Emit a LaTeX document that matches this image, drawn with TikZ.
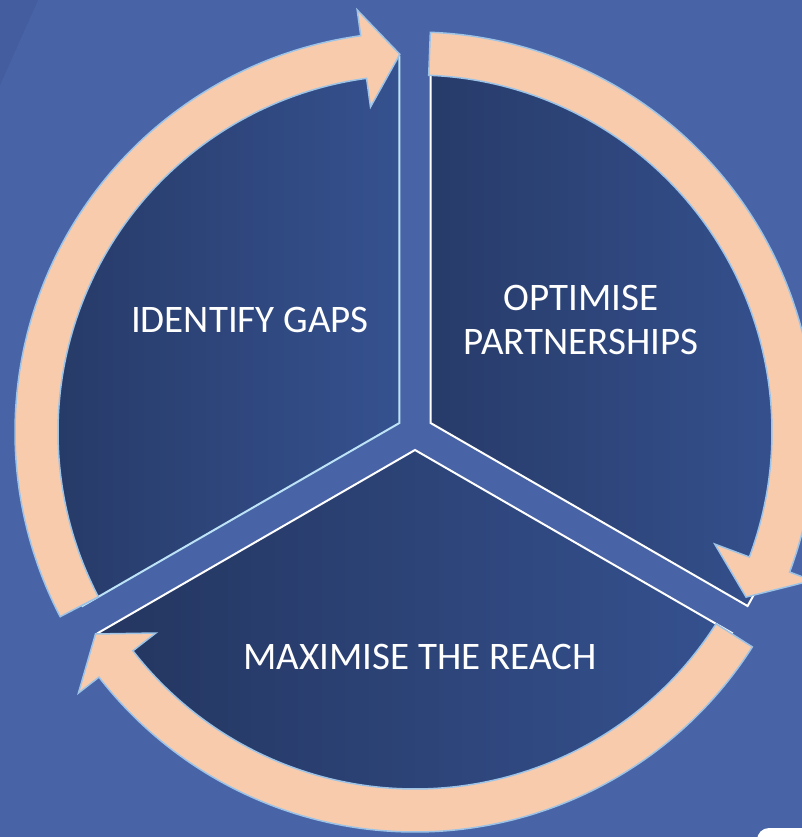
\documentclass[tikz,border=0pt]{standalone}
\usepackage{fontspec}
\setmainfont{Carlito}
\usepackage{xcolor}
\usepackage{tikz}
\usetikzlibrary{arrows.meta, positioning, calc}
\definecolor{bgblue}{RGB}{72, 99, 166}
\definecolor{bgshade}{RGB}{67, 93, 158}
\definecolor{segdark}{RGB}{36, 54, 96}
\definecolor{seglight}{RGB}{53, 81, 143}
\definecolor{arrowfill}{RGB}{248, 203, 173}
\definecolor{arrowline}{RGB}{157, 195, 230}
\definecolor{edgeblue}{RGB}{189, 227, 247}

\begin{document}
\begin{tikzpicture}[x=1pt, y=1pt,
    segment/.style={left color=segdark, right color=seglight, draw=white, line width=2pt, line join=miter},
    cyclearrow/.style={fill=arrowfill, draw=arrowline, line width=1.5pt, line join=miter},
    segtext/.style={text=white, align=center, font=\fontsize{39}{44}\selectfont}]
    \useasboundingbox (-415,-405) rectangle (387,432);
    \clip (-415,-405) rectangle (387,432);
    \fill[bgblue] (-415,-405) rectangle (387,432);
    \fill[bgshade] (-415,432) -- (-377,432) -- (-415,347) -- cycle;
    \fill[white, rounded corners=12pt] (342,-396) rectangle (430,-450);
    \coordinate (hub) at (0,0);

    % three segments, pushed apart from the hub
    \draw[segment, draw=edgeblue] (150:18pt) -- ++(210:366pt) arc[start angle=210, end angle=90, radius=366pt] -- cycle;
    \draw[segment, left color=segdark!80!seglight] (30:18pt) -- ++(90:366pt) arc[start angle=90, end angle=-30, radius=366pt] -- cycle;
    \draw[segment] (270:18pt) -- ++(-30:366pt) arc[start angle=-30, end angle=-150, radius=366pt] -- cycle;

    % arrows round the ring
    \draw[cyclearrow] (87.8:400pt) arc[start angle=87.8, end angle=-20.5, radius=400pt] -- (-20.5:424pt) -- (-26.5:370pt) -- (-20.5:320pt) -- (-20.5:357pt) arc[start angle=-20.5, end angle=87.8, radius=357pt] -- cycle;
    \draw[cyclearrow] (327.5:400pt) arc[start angle=327.5, end angle=217.8, radius=400pt] -- (217.8:426pt) -- (212.3:378pt) -- (217.8:328pt) -- (217.8:357pt) arc[start angle=217.8, end angle=327.5, radius=357pt] -- cycle;
    \draw[cyclearrow] (207.5:400pt) arc[start angle=207.5, end angle=97.8, radius=400pt] -- (97.8:426pt) -- (92.3:378pt) -- (97.8:328pt) -- (97.8:357pt) arc[start angle=97.8, end angle=207.5, radius=357pt] -- cycle;

    \node[segtext] (gaps) at (-165,112) {IDENTIFY GAPS};
    \node[segtext] (partners) at (166,112) {OPTIMISE\\PARTNERSHIPS};
    \node[segtext] (reach) at (5,-225) {MAXIMISE THE REACH};
\end{tikzpicture}
\end{document}
